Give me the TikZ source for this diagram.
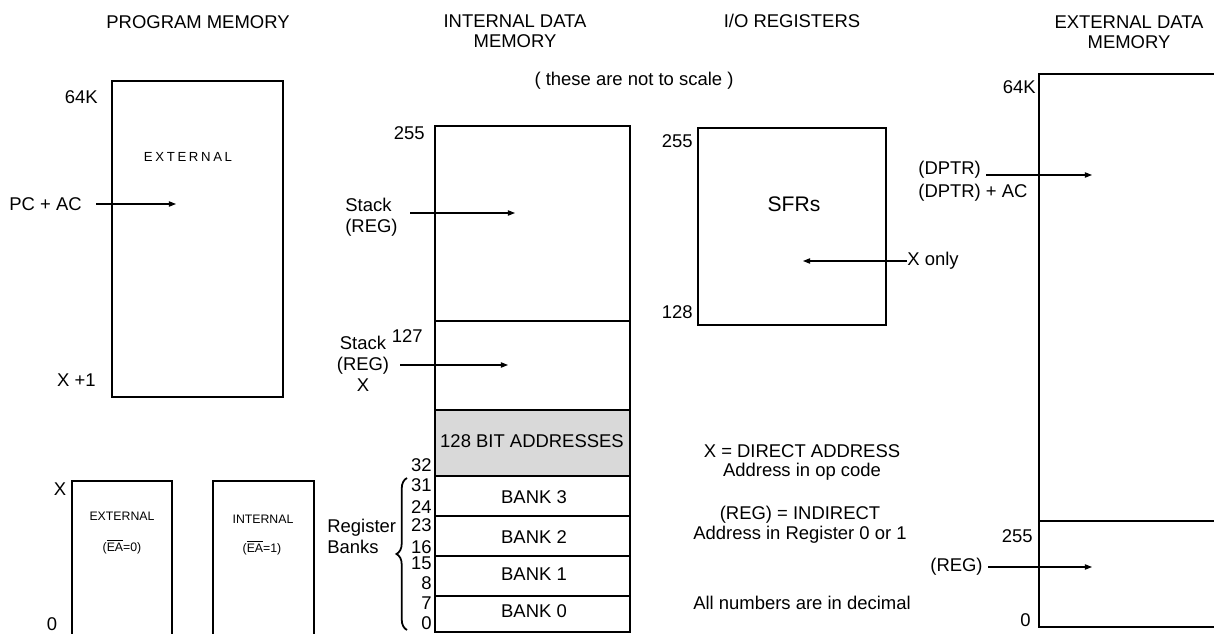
\documentclass[tikz,border=0pt]{standalone}
\usepackage{fontspec}
\setmainfont{Liberation Sans}
\newfontfamily\spacedfont[LetterSpace=20]{Liberation Sans}
\usetikzlibrary{arrows.meta, decorations.pathreplacing}

\begin{document}
\begin{tikzpicture}[x=0.02cm, y=-0.02cm,
    lbl/.style={font=\fontsize{10.5}{12}\selectfont, inner sep=0pt},
    ttl/.style={font=\fontsize{10.5}{11.5}\selectfont, inner sep=0pt, align=center},
    tiny/.style={font=\fontsize{7}{8}\selectfont, inner sep=0pt},
    arr/.style={-{Triangle[length=4pt,width=3pt]}, line width=0.6pt},
    box/.style={line width=0.9pt}]
    \useasboundingbox (0,0) rectangle (1214,634);

    \node[ttl] (tProg) at (198,22) {PROGRAM MEMORY};
    \node[ttl] (tInt) at (515,31) {INTERNAL DATA\\MEMORY};
    \node[ttl] (tIO) at (792,21) {I/O REGISTERS};
    \node[ttl] (tExt) at (1129,32) {EXTERNAL DATA\\MEMORY};
    \node[lbl] (note) at (634,81) {( these are not to scale )};

    % program memory
    \draw[box] (112,81) rectangle (283,397);
    \node[lbl, anchor=east] (p64k) at (98,97) {64K};
    \node[inner sep=0pt, font=\spacedfont\fontsize{7.5}{9}\selectfont] (pExt) at (188,157) {EXTERNAL};
    \node[lbl, anchor=east] (pcac) at (82,204) {PC + AC};
    \coordinate (pcTip) at (176,204);
    \draw[arr, shorten <=8pt] (pcac.east) -- (pcTip);
    \node[lbl, anchor=east] (pX1) at (96,380) {X +1};

    \draw[box] (72,634) -- (72,481) -- (172,481) -- (172,634);
    \draw[box] (213,634) -- (213,481) -- (314,481) -- (314,634);
    \node[lbl] (sX) at (60,489) {X};
    \node[lbl] (s0) at (52,624) {0};
    \node[tiny] (sExt) at (122,516) {EXTERNAL};
    \node[tiny] (sExtEA) at (122,547) {($\overline{\mbox{EA}}$=0)};
    \node[tiny] (sInt) at (263,519) {INTERNAL};
    \node[tiny] (sIntEA) at (262,548) {($\overline{\mbox{EA}}$=1)};

    % internal data memory
    \fill[black!15] (435,410) rectangle (630,476);
    \draw[box] (435,126) rectangle (630,632);
    \foreach \y in {321,410,476,516,556,596}
        \draw[box] (435,\y) -- (630,\y);
    \node[lbl, anchor=east] (i255) at (425,133) {255};
    \node[lbl, anchor=east] (i127) at (423,336) {127};
    \node[lbl, anchor=west, align=left] (stk1) at (345,217) {Stack\\(REG)};
    \coordinate (stk1Tip) at (515,213);
    \draw[arr, shorten <=7pt] (stk1.east |- stk1Tip) -- (stk1Tip);
    \node[lbl, align=center] (stk2) at (363,364) {Stack\\(REG)\\X};
    \coordinate (stk2Tip) at (508,365);
    \draw[arr, shorten <=6pt] (stk2.east |- stk2Tip) -- (stk2Tip);
    \node[lbl] (bitAddr) at (532,441) {128 BIT ADDRESSES};
    \foreach \n/\y in {3/497,2/537,1/574,0/611}
        \node[lbl] (bank\n) at (534,\y) {BANK \n};
    \foreach \v/\y in {32/465,31/485,24/507,23/525,16/547,15/563,8/583,7/603,0/623}
        \node[lbl, anchor=east] (n\v) at (432,\y) {\v};
    \draw[line width=1pt, decorate, decoration={brace, amplitude=6pt}] (407,630) -- (407,478);
    \node[lbl, anchor=west, align=left] (regBanks) at (327,536) {Register\\Banks};

    % i/o registers
    \draw[box] (698,128) rectangle (886,325);
    \node[lbl, anchor=east] (io255) at (693,141) {255};
    \node[lbl, anchor=east] (io128) at (693,312) {128};
    \node[inner sep=0pt, font=\fontsize{12}{14}\selectfont] (sfrs) at (794,204) {SFRs};
    \node[lbl, anchor=west] (xonly) at (907,261) {X only};
    \coordinate (xTip) at (803,261);
    \draw[arr] (xonly.west) -- (xTip);

    \node[lbl] (dirA) at (802,451) {X = DIRECT ADDRESS};
    \node[lbl] (dirB) at (802,472) {Address in op code};
    \node[lbl] (indA) at (800,515) {(REG) = INDIRECT};
    \node[lbl] (indB) at (800,535) {Address in Register 0 or 1};
    \node[lbl] (dec) at (802,603) {All numbers are in decimal};

    % external data memory
    \draw[box] (1214,74) -- (1039,74) -- (1039,627) -- (1214,627);
    \draw[box] (1039,521) -- (1214,521);
    \node[lbl, anchor=east] (e64k) at (1036,87) {64K};
    \node[lbl, anchor=west] (dptr1) at (918,170) {(DPTR)};
    \node[lbl, anchor=west] (dptr2) at (918,193) {(DPTR) + AC};
    \coordinate (dptrTip) at (1092,175);
    \draw[arr, shorten <=3pt] (dptr1.east |- dptrTip) -- (dptrTip);
    \node[lbl, anchor=east] (e255) at (1033,536) {255};
    \node[lbl, anchor=west] (xreg) at (930,567) {(REG)};
    \coordinate (xregTip) at (1092,567);
    \draw[arr, shorten <=3pt] (xreg.east) -- (xregTip);
    \node[lbl, anchor=east] (e0) at (1031,620) {0};
\end{tikzpicture}
\end{document}
